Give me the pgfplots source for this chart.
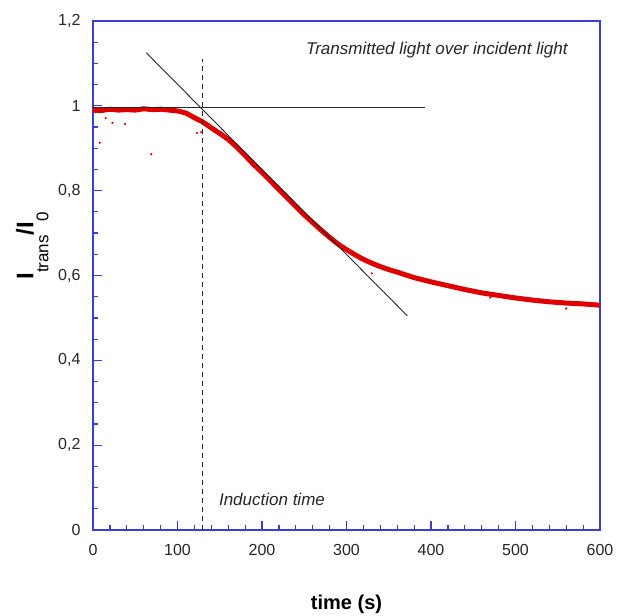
\documentclass[border=0pt]{standalone}
\usepackage{fontspec}
\setmainfont{Liberation Sans}
\usepackage{pgfplots}
\pgfplotsset{compat=1.18}
\definecolor{axblue}{RGB}{60,60,215}
\definecolor{curvered}{RGB}{222,0,0}
\begin{document}
\begin{tikzpicture}
\begin{axis}[
 scale only axis, width=507pt, height=509pt,
 xmin=0,xmax=600,ymin=0,ymax=1.2,
 axis line style={axblue, line width=1.5pt},
 every tick/.style={axblue, line width=1.2pt},
 xtick={0,100,...,600}, minor x tick num=4,
 ytick={0,0.2,0.4,0.6,0.8,1,1.2}, minor y tick num=3,
 tick align=inside, major tick length=9pt, minor tick length=5pt,
 xtick pos=bottom, ytick pos=left,
 /pgf/number format/assume math mode=true,
 /pgf/number format/use comma,
 ticklabel style={font=\fontsize{16}{18}\selectfont, color=black!85},
 yticklabel style={xshift=-9pt},
 xticklabel style={yshift=-11pt},
 xlabel={\textbf{time (s)}},
 xlabel style={at={(axis description cs:0.5,0)}, anchor=base, yshift=-79pt, font=\fontsize{20}{24}\selectfont},
 ylabel={{\fontsize{24}{26}\selectfont\bfseries I}{\fontsize{17}{18}\selectfont\raisebox{-15pt}{trans}}{\fontsize{24}{26}\selectfont\bfseries /I}{\fontsize{17}{18}\selectfont\raisebox{-15pt}{0}}},
 ylabel style={at={(axis description cs:-0.12,0.558)}, anchor=center},
 clip=false,
]
\addplot[curvered, line width=5pt, line join=round] coordinates {
(0,0.990) (10,0.989) (20,0.992) (30,0.990) (40,0.991) (50,0.990) (60,0.993) (70,0.991) (80,0.992) (90,0.990) (100,0.988)
(110,0.983) (120,0.972) (130,0.962) (140,0.948) (150,0.935) (160,0.921) (170,0.903) (180,0.883) (190,0.862) (200,0.843)
(210,0.823) (220,0.803) (230,0.783) (240,0.763) (250,0.743) (260,0.725) (270,0.707) (280,0.690) (290,0.674) (300,0.661)
(310,0.649) (320,0.638) (330,0.629) (340,0.621) (350,0.614) (360,0.608) (380,0.595) (400,0.585) (420,0.576) (440,0.567) (460,0.559)
(480,0.553) (500,0.547) (520,0.542) (540,0.538) (560,0.535) (580,0.533) (600,0.530)
};
\addplot[only marks, mark=*, mark size=0.9pt, curvered] coordinates {
(8,0.913) (69,0.886) (15,0.971) (23,0.960) (38,0.957) (123,0.936) (128,0.938) (3,0.985) (330,0.605) (560,0.522) (470,0.548)
};
\addplot[black!85, line width=0.9pt] coordinates {(0,0.995) (393,0.995)};
\addplot[black!85, line width=0.9pt] coordinates {(63,1.125) (372,0.505)};
\addplot[black!85, line width=0.9pt, dash pattern=on 5pt off 4pt] coordinates {(130,0) (130,1.11)};
\node[anchor=center, font=\itshape\fontsize{17}{20}\selectfont, text=black!85] at (axis cs:407,1.132) {Transmitted light over incident light};
\node[anchor=west, font=\itshape\fontsize{17}{20}\selectfont, text=black!85] at (axis cs:145,0.071) {Induction time};
\end{axis}
\pgfresetboundingbox
\path (current axis.south west) ++(-93pt,-85pt) coordinate (bba);
\path (current axis.north east) ++(20pt,21pt) coordinate (bbb);
\useasboundingbox (bba) rectangle (bbb);
\end{tikzpicture}
\end{document}
